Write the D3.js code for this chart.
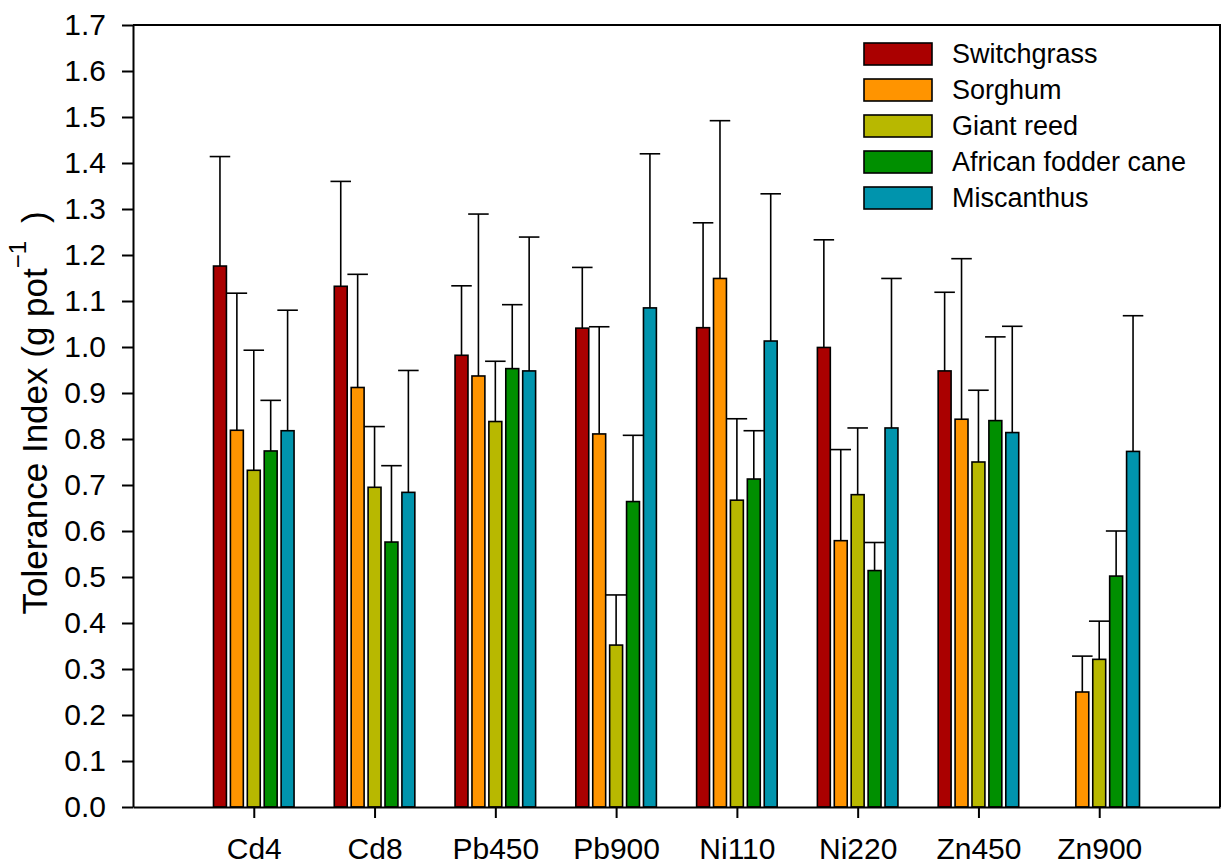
<!DOCTYPE html>
<html>
<head>
<meta charset="utf-8">
<script src="https://cdn.jsdelivr.net/npm/d3@7/dist/d3.min.js"></script>
<style>
  body { margin: 0; background: #fff; }
  svg { font-family: "Liberation Sans", Arial, sans-serif; }
</style>
</head>
<body>
<div id="chart"></div>
<script>
// treatments (x axis)
var treatments = ["Cd4", "Cd8", "Pb450", "Pb900", "Ni110", "Ni220", "Zn450", "Zn900"];

// species (series)
var species = ["Switchgrass", "Sorghum", "Giant reed", "African fodder cane", "Miscanthus"];
var colors = ["#aa0000", "#ff9400", "#b8b800", "#008f00", "#0094ad"];

// mean tolerance index, one array per species (null = no bar)
var switchgrass = [1.176, 1.132, 0.982, 1.041, 1.042, 0.999, 0.948, null];
var sorghum     = [0.819, 0.912, 0.937, 0.811, 1.149, 0.579, 0.843, 0.250];
var giantReed   = [0.732, 0.695, 0.838, 0.352, 0.667, 0.679, 0.750, 0.321];
var fodderCane  = [0.774, 0.576, 0.953, 0.664, 0.713, 0.514, 0.840, 0.502];
var miscanthus  = [0.818, 0.684, 0.948, 1.085, 1.013, 0.824, 0.814, 0.773];

// upper error (SD)
var switchgrassErr = [0.238, 0.228, 0.151, 0.132, 0.228, 0.234, 0.171, null];
var sorghumErr     = [0.298, 0.246, 0.352, 0.233, 0.343, 0.198, 0.349, 0.078];
var giantReedErr   = [0.261, 0.132, 0.131, 0.109, 0.177, 0.145, 0.156, 0.083];
var fodderCaneErr  = [0.110, 0.166, 0.139, 0.144, 0.105, 0.061, 0.182, 0.098];
var miscanthusErr  = [0.262, 0.265, 0.291, 0.335, 0.320, 0.325, 0.231, 0.295];

var yTicks = d3.range(0, 18).map(function(i) { return i / 10; });

var means = [switchgrass, sorghum, giantReed, fodderCane, miscanthus];
var errs = [switchgrassErr, sorghumErr, giantReedErr, fodderCaneErr, miscanthusErr];

var width = 1227, height = 864;
var margin = { top: 25, right: 7, bottom: 57, left: 133 };

var svg = d3.select("#chart")
    .append("svg")
    .attr("width", width)
    .attr("height", height);

var x = d3.scaleLinear()
    .domain([0, 9])
    .range([margin.left, width - margin.right]);

var y = d3.scaleLinear()
    .domain([0, 1.7])
    .range([height - margin.bottom, margin.top]);

var slot = 0.14, barW = 0.107, capW = 0.17;

// flatten to bar records
var bars = [];
means.forEach(function(series, s) {
    series.forEach(function(v, i) {
        if (v === null) return;
        bars.push({ s: s, i: i, v: v, e: errs[s][i] });
    });
});

function barCenter(d) {
    return x(d.i + 1 + (d.s - 2) * slot);
}

// error bars (drawn first so bars sit on top)
var eb = svg.append("g")
    .attr("stroke", "#000")
    .attr("stroke-width", 1.6);

eb.selectAll("line.v")
    .data(bars)
    .enter()
    .append("line")
    .attr("x1", barCenter)
    .attr("x2", barCenter)
    .attr("y1", function(d) { return y(d.v); })
    .attr("y2", function(d) { return y(d.v + d.e); });

eb.selectAll("line.c")
    .data(bars)
    .enter()
    .append("line")
    .attr("x1", function(d) { return barCenter(d) - (x(capW) - x(0)) / 2; })
    .attr("x2", function(d) { return barCenter(d) + (x(capW) - x(0)) / 2; })
    .attr("y1", function(d) { return y(d.v + d.e); })
    .attr("y2", function(d) { return y(d.v + d.e); });

// bars
svg.append("g")
    .selectAll("rect")
    .data(bars)
    .enter()
    .append("rect")
    .attr("x", function(d) { return barCenter(d) - (x(barW) - x(0)) / 2; })
    .attr("width", x(barW) - x(0))
    .attr("y", function(d) { return y(d.v); })
    .attr("height", function(d) { return y(0) - y(d.v); })
    .attr("fill", function(d) { return colors[d.s]; })
    .attr("stroke", "#000")
    .attr("stroke-width", 1.6);

// frame (top and right)
svg.append("path")
    .attr("d", "M" + x(0) + "," + y(1.7) + "H" + x(9) + "V" + y(0))
    .attr("fill", "none")
    .attr("stroke", "#000")
    .attr("stroke-width", 2);

// axes
var yAxis = svg.append("g")
    .attr("transform", "translate(" + x(0) + ",0)")
    .call(d3.axisLeft(y)
        .tickValues(yTicks)
        .tickFormat(d3.format(".1f"))
        .tickSize(11)
        .tickSizeOuter(0)
        .tickPadding(16));

var xAxis = svg.append("g")
    .attr("transform", "translate(0," + y(0) + ")")
    .call(d3.axisBottom(x)
        .tickValues(d3.range(1, 9))
        .tickFormat(function(d) { return treatments[d - 1]; })
        .tickSize(11)
        .tickSizeOuter(0)
        .tickPadding(20));

[yAxis, xAxis].forEach(function(a) {
    a.select(".domain").attr("stroke-width", 2);
    a.selectAll(".tick line").attr("stroke-width", 2);
    a.selectAll("text")
        .attr("font-size", 30)
        .attr("font-family", "Liberation Sans, Arial, sans-serif")
        .attr("fill", "#000");
});

// y axis title
var title = svg.append("text")
    .attr("transform", "translate(47,413) rotate(-90)")
    .attr("text-anchor", "middle")
    .attr("font-size", 35)
    .attr("fill", "#000");
title.append("tspan").text("Tolerance Index (g pot");
title.append("tspan").attr("font-size", 24).attr("dy", -21).text("\u22121");
title.append("tspan").attr("dy", 21).attr("dx", 8).text(" )");

// legend
var legend = svg.append("g")
    .selectAll("g")
    .data(species)
    .enter()
    .append("g")
    .attr("transform", function(d, i) { return "translate(864," + (43 + i * 36) + ")"; });

legend.append("rect")
    .attr("width", 68)
    .attr("height", 22)
    .attr("fill", function(d, i) { return colors[i]; })
    .attr("stroke", "#000")
    .attr("stroke-width", 1.6);

legend.append("text")
    .attr("x", 88)
    .attr("y", 20)
    .attr("font-size", 27)
    .attr("fill", "#000")
    .text(function(d) { return d; });
</script>
</body>
</html>
